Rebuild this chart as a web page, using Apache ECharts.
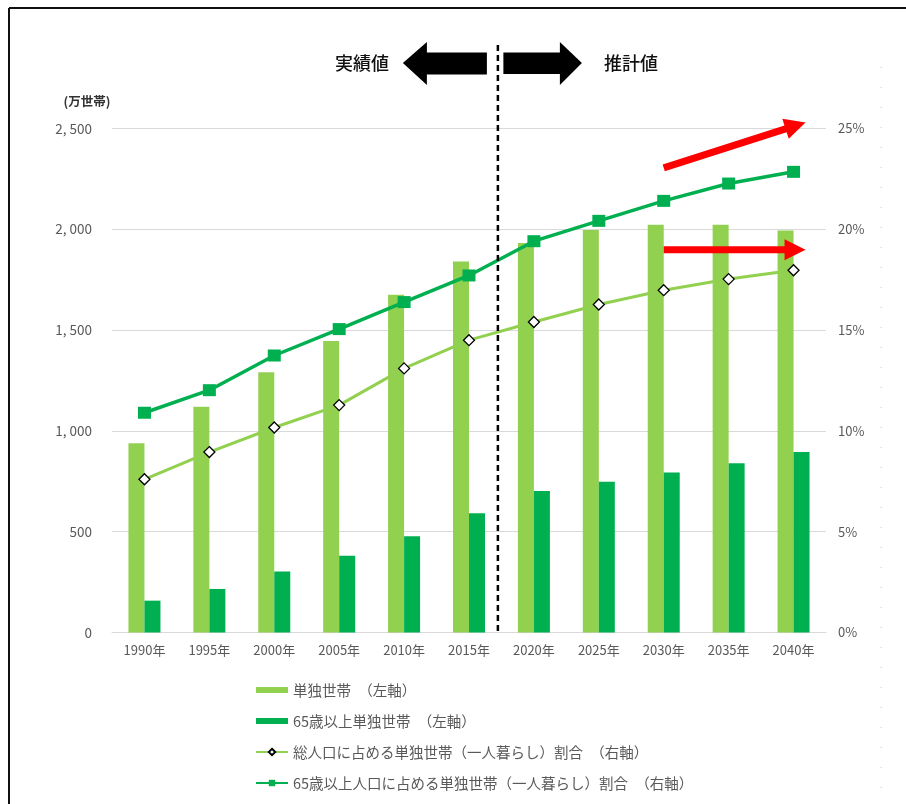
<!DOCTYPE html>
<html>
<head>
<meta charset="utf-8">
<script src="https://cdn.jsdelivr.net/npm/echarts@6/dist/echarts.min.js"></script>
<style>
  html, body { margin: 0; padding: 0; background: #ffffff; }
  #chart { width: 906px; height: 804px; }
</style>
</head>
<body>
<div id="chart"></div>
<script>
// 単独世帯数（万世帯）と単独世帯割合（%）
const years = ['1990年', '1995年', '2000年', '2005年', '2010年', '2015年', '2020年', '2025年', '2030年', '2035年', '2040年'];
const singleHouseholds = [939, 1120, 1291, 1446, 1675, 1840, 1932, 1997, 2023, 2022, 1994];
const elderlySingleHouseholds = [158, 216, 302, 381, 478, 592, 702, 748, 794, 839, 895];
const singleShareTotal = [7.6, 8.95, 10.17, 11.28, 13.1, 14.5, 15.4, 16.27, 16.98, 17.53, 17.97];
const singleShareElderly = [10.9, 12.02, 13.74, 15.05, 16.39, 17.71, 19.41, 20.42, 21.41, 22.27, 22.85];
const leftTickLabels = ['0', '500', '1, 000', '1, 500', '2, 000', '2, 500'];
const rightTickLabels = ['0%', '5%', '10%', '15%', '20%', '25%'];
const seriesNames = [
  '単独世帯　（左軸）',
  '65歳以上単独世帯　（左軸）',
  '総人口に占める単独世帯（一人暮らし）割合　（右軸）',
  '65歳以上人口に占める単独世帯（一人暮らし）割合　（右軸）'
];
const unitLabel = '(万世帯)';
const periodLabels = ['実績値', '推計値'];

const FONT = '"Noto Sans CJK JP", "Noto Sans", sans-serif';
const LIGHT = '#92D050';
const DARK = '#00B050';
const TEXT = '#595959';

const chart = echarts.init(document.getElementById('chart'), null, { renderer: 'canvas' });

chart.setOption({
  backgroundColor: '#ffffff',
  animation: false,
  textStyle: { fontFamily: FONT },
  grid: { left: 112, right: 80, top: 128.5, bottom: 171.5, containLabel: false },
  legend: {
    orient: 'vertical',
    left: 255,
    top: 682,
    height: 130,
    itemWidth: 32,
    itemHeight: 8,
    itemGap: 15,
    padding: 0,
    textStyle: { color: TEXT, fontSize: 14.5, lineHeight: 16, fontFamily: FONT },
    data: [
      { name: seriesNames[0], icon: 'path://M0,0H32V6H0Z' },
      { name: seriesNames[1], icon: 'path://M0,0H32V6H0Z' },
      { name: seriesNames[2] },
      { name: seriesNames[3] }
    ]
  },
  xAxis: {
    type: 'category',
    data: years,
    boundaryGap: true,
    axisTick: { show: false },
    axisLine: { lineStyle: { color: '#d9d9d9', width: 1 } },
    axisLabel: { color: TEXT, fontSize: 13, margin: 11, fontFamily: FONT }
  },
  yAxis: [
    {
      type: 'value',
      min: 0, max: 2500, interval: 500,
      axisLine: { show: false },
      axisTick: { show: false },
      splitLine: { lineStyle: { color: '#d9d9d9', width: 1 } },
      axisLabel: {
        color: TEXT, fontSize: 13.5, margin: 20, fontFamily: FONT,
        formatter: v => leftTickLabels[Math.round(v / 500)]
      }
    },
    {
      type: 'value',
      min: 0, max: 25, interval: 5,
      axisLine: { show: false },
      axisTick: { show: false },
      splitLine: { show: false },
      axisLabel: {
        color: TEXT, fontSize: 13, margin: 12, fontFamily: FONT,
        formatter: v => rightTickLabels[Math.round(v / 5)]
      }
    }
  ],
  series: [
    {
      name: seriesNames[0], type: 'bar', yAxisIndex: 0,
      data: singleHouseholds, barWidth: 16, barGap: '0%',
      itemStyle: { color: LIGHT }
    },
    {
      name: seriesNames[1], type: 'bar', yAxisIndex: 0,
      data: elderlySingleHouseholds, barWidth: 16, barGap: '0%',
      itemStyle: { color: DARK }
    },
    {
      name: seriesNames[2], type: 'line', yAxisIndex: 1,
      data: singleShareTotal,
      lineStyle: { color: LIGHT, width: 3 },
      symbol: 'diamond', symbolSize: [11, 11],
      itemStyle: { color: '#ffffff', borderColor: '#000000', borderWidth: 1.3 },
      z: 3
    },
    {
      name: seriesNames[3], type: 'line', yAxisIndex: 1,
      data: singleShareElderly,
      lineStyle: { color: DARK, width: 3.5 },
      symbol: 'rect', symbolSize: [13, 12],
      itemStyle: { color: DARK },
      z: 4
    }
  ]
});

// Arrow polygon from a start point to a tip point
function arrowPoints(x1, y1, x2, y2, shaftHalf, headLen, headHalf) {
  const dx = x2 - x1, dy = y2 - y1;
  const len = Math.hypot(dx, dy);
  const ux = dx / len, uy = dy / len;
  const nx = -uy, ny = ux;
  const bx = x2 - ux * headLen, by = y2 - uy * headLen;
  return [
    [x1 + nx * shaftHalf, y1 + ny * shaftHalf],
    [bx + nx * shaftHalf, by + ny * shaftHalf],
    [bx + nx * headHalf, by + ny * headHalf],
    [x2, y2],
    [bx - nx * headHalf, by - ny * headHalf],
    [bx - nx * shaftHalf, by - ny * shaftHalf],
    [x1 - nx * shaftHalf, y1 - ny * shaftHalf]
  ];
}

function drawAnnotations() {
  const px = i => chart.convertToPixel({ xAxisIndex: 0 }, years[i]);
  const pyR = v => chart.convertToPixel({ yAxisIndex: 1 }, v);
  const x2015 = px(5), x2020 = px(6);
  const divX = x2015 + (x2020 - x2015) * 0.445;
  const baseY = chart.convertToPixel({ yAxisIndex: 0 }, 0);
  const midY = 63;

  const xStart = px(8);
  const xTip = px(10) + 12;

  const elements = [
    // chart frame
    { type: 'line', shape: { x1: 9, y1: 8, x2: 906, y2: 8 }, style: { stroke: '#111', lineWidth: 2 }, silent: true },
    { type: 'line', shape: { x1: 9, y1: 8, x2: 9, y2: 804 }, style: { stroke: '#111', lineWidth: 2 }, silent: true },
    { type: 'line', shape: { x1: 881, y1: 67, x2: 881, y2: 804 }, style: { stroke: '#c8c8c8', lineWidth: 1, lineDash: [1, 19] }, silent: true },
    // actual / projected divider
    { type: 'line', shape: { x1: divX, y1: 45, x2: divX, y2: baseY }, style: { stroke: '#000', lineWidth: 2.5, lineDash: [6, 4] }, z: 10, silent: true },
    // black arrows
    { type: 'polygon', shape: { points: [
        [divX - 95, midY], [divX - 71, 42], [divX - 71, 52.5], [divX - 11, 52.5],
        [divX - 11, 74.5], [divX - 71, 74.5], [divX - 71, 85]
      ] }, style: { fill: '#000' }, silent: true },
    { type: 'polygon', shape: { points: [
        [divX + 5.5, 52.5], [divX + 62, 52.5], [divX + 62, 42], [divX + 84, midY],
        [divX + 62, 85], [divX + 62, 74], [divX + 5.5, 74]
      ] }, style: { fill: '#000' }, silent: true },
    { type: 'text', x: divX - 136, y: midY, style: { text: periodLabels[0], fill: '#111', font: '500 18px ' + FONT, textAlign: 'center', textVerticalAlign: 'middle' }, silent: true },
    { type: 'text', x: divX + 133, y: midY, style: { text: periodLabels[1], fill: '#111', font: '500 18px ' + FONT, textAlign: 'center', textVerticalAlign: 'middle' }, silent: true },
    // axis unit
    { type: 'text', x: 87, y: 101, style: { text: unitLabel, fill: '#333', font: 'bold 12.5px ' + FONT, textAlign: 'center', textVerticalAlign: 'middle' }, silent: true },
    // red trend arrows
    { type: 'polygon', shape: { points: arrowPoints(xStart, pyR(23.05), xTip, pyR(25.3), 3.6, 21, 10.5) }, style: { fill: '#FF0000' }, z: 10, silent: true },
    { type: 'polygon', shape: { points: arrowPoints(xStart, pyR(18.98), xTip, pyR(18.98), 3.5, 21, 10.5) }, style: { fill: '#FF0000' }, z: 10, silent: true }
  ];
  chart.setOption({ graphic: { elements } });
}

drawAnnotations();
</script>
</body>
</html>
